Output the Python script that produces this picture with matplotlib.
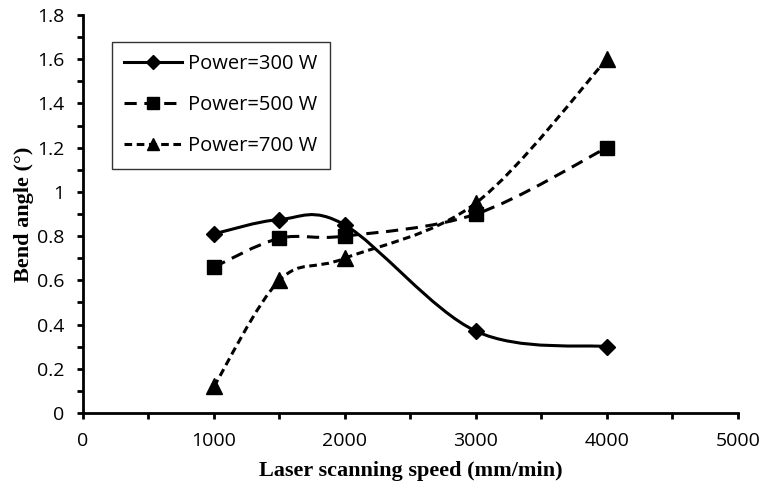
import numpy as np
import matplotlib
matplotlib.use('Agg')
import matplotlib.pyplot as plt
from matplotlib.path import Path
from matplotlib.patches import PathPatch
from matplotlib.lines import Line2D
from matplotlib.ticker import MultipleLocator

speed = [1000, 1500, 2000, 3000, 4000]
p300 = [0.81, 0.875, 0.85, 0.37, 0.30]
p500 = [0.66, 0.79, 0.80, 0.90, 1.20]
p700 = [0.12, 0.60, 0.70, 0.95, 1.60]
labels = ['Power=300 W', 'Power=500 W', 'Power=700 W']
yticks = [0, 0.2, 0.4, 0.6, 0.8, 1.0, 1.2, 1.4, 1.6, 1.8]
yticklabels = ['0', '0.2', '0.4', '0.6', '0.8', '1', '1.2', '1.4', '1.6', '1.8']

plt.rcParams['font.family'] = 'Open Sans'


def smooth_path(x, y):
    # excel-like smoothed line: cubic bezier through each point
    p = np.column_stack([x, y]).astype(float)
    n = len(p)
    verts = [p[0]]
    codes = [Path.MOVETO]
    for i in range(n - 1):
        p0 = p[i - 1] if i > 0 else p[i]
        p3 = p[i + 2] if i + 2 < n else p[i + 1]
        c1 = p[i] + (p[i + 1] - p0) / 6
        c2 = p[i + 1] - (p3 - p[i]) / 6
        verts += [c1, c2, p[i + 1]]
        codes += [Path.CURVE4] * 3
    return Path(verts, codes)


fig = plt.figure(figsize=(7.64, 4.88), dpi=100)
ax = fig.add_axes([0.1086, 0.1537, 0.8573, 0.8156])

styles = [
    dict(marker='D', ms=8, dashes=None),
    dict(marker='s', ms=10, dashes=(4, 2.5)),
    dict(marker='^', ms=11, dashes=(2.5, 1.5)),
]
handles = []
for ys, st, lab in zip([p300, p500, p700], styles, labels):
    ls = '-' if st['dashes'] is None else (0, st['dashes'])
    patch = PathPatch(smooth_path(speed, ys), fill=False, edgecolor='black',
                      lw=2.2, linestyle=ls)
    ax.add_patch(patch)
    ax.plot(speed, ys, ls='none', marker=st['marker'], ms=st['ms'], color='black')
    h = Line2D([], [], color='black', lw=2.2, marker=st['marker'], ms=st['ms'] * 0.85)
    if st['dashes'] is not None:
        h.set_dashes(st['dashes'])
    handles.append(h)

ax.set_xlim(0, 5000)
ax.set_ylim(0, 1.8)
ax.xaxis.set_major_locator(MultipleLocator(1000))
ax.xaxis.set_minor_locator(MultipleLocator(500))
ax.set_yticks(yticks)
ax.set_yticklabels(yticklabels)
ax.yaxis.set_minor_locator(MultipleLocator(0.1))
ax.tick_params(which='both', direction='out', width=2, length=4.5, labelsize=14)
ax.tick_params(axis='x', pad=9)
ax.tick_params(axis='y', pad=9)
ax.spines['top'].set_visible(False)
ax.spines['right'].set_visible(False)
ax.spines['left'].set_linewidth(2)
ax.spines['bottom'].set_linewidth(2)

ax.set_xlabel('Laser scanning speed (mm/min)', family='Liberation Serif',
              fontweight='bold', fontsize=16, labelpad=8)
ax.set_ylabel('Bend angle (°)', family='Liberation Serif',
              fontweight='bold', fontsize=16, labelpad=2)

leg = ax.legend(handles, labels, loc='upper left', bbox_to_anchor=(0.044, 0.932),
                frameon=True, fancybox=False, edgecolor='black', fontsize=14.5,
                handlelength=2.9, labelspacing=1.05, borderpad=0.6, handletextpad=0.3,
                borderaxespad=0)
leg.get_frame().set_linewidth(1)

plt.savefig('out.png', dpi=100)
